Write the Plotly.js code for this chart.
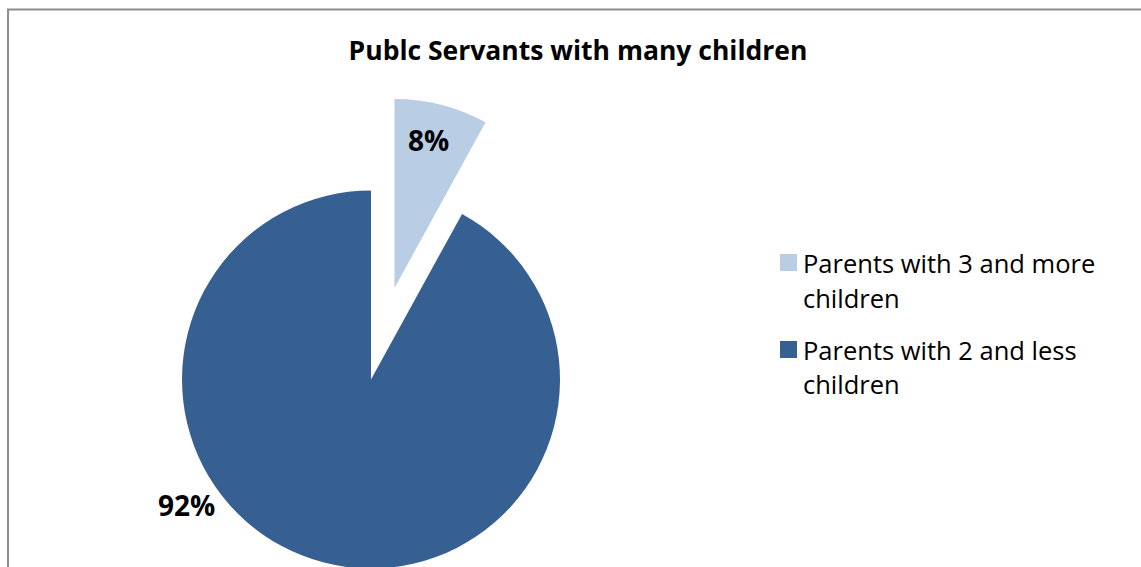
<!DOCTYPE html>
<html>
<head>
<meta charset="utf-8">
<script src="https://cdn.plot.ly/plotly-3.0.1.min.js"></script>
<style>
  html, body { margin: 0; padding: 0; background: #fff; overflow: hidden; }
  #wrap { width: 1141px; height: 567px; overflow: hidden; position: relative; }
  #chart { width: 1141px; height: 700px; }
</style>
</head>
<body>
<div id="wrap"><div id="chart"></div></div>
<script>
// ---- data ----
const chartTitle = "Publc Servants with many children";
const categories = ["Parents with 3 and more children", "Parents with 2 and less children"];
const values = [8, 92];
const colors = ["#B9CDE5", "#376092"];
const pulls = [0.5, 0];

// ---- geometry helpers (pixel -> paper) ----
const W = 1141, T = 96, H = 567, B = 37;
const px = x => x / W;
const py = y => (T + H - y) / H;

function wrap(text, maxLen) {
  const words = text.split(" ");
  const lines = [];
  let cur = "";
  words.forEach(w => {
    const cand = cur ? cur + " " + w : w;
    if (cand.length > maxLen && cur) { lines.push(cur); cur = w; }
    else cur = cand;
  });
  if (cur) lines.push(cur);
  return lines;
}

const FONT = "Open Sans, Liberation Sans, sans-serif";
const total = values.reduce((a, b) => a + b, 0);
const pct = values.map(v => Math.round(v / total * 100) + "%");

const trace = {
  type: "pie",
  labels: categories,
  values: values,
  sort: false,
  direction: "clockwise",
  rotation: 0,
  pull: pulls,
  marker: { colors: colors, line: { width: 0 } },
  textinfo: "none",
  hoverinfo: "label+percent",
  showlegend: false,
  domain: { x: [0.06515, 0.58515], y: [0, 1] }
};

// data label positions (pixel centers)
const labelPos = [[428, 140], [186, 505]];

const annotations = [];
const shapes = [];

pct.forEach((t, i) => {
  annotations.push({
    xref: "paper", yref: "paper",
    x: px(labelPos[i][0]), y: py(labelPos[i][1]),
    xanchor: "center", yanchor: "middle",
    text: "<b>" + t + "</b>", showarrow: false,
    font: { family: FONT, size: 28, color: "#000" }
  });
});

// legend built from categories/colors
const legX = 780, legY0 = 254, itemGap = 87, lineGap = 35, sq = 17;
categories.forEach((c, i) => {
  const top = legY0 + itemGap * i;
  shapes.push({
    type: "rect", xref: "paper", yref: "paper",
    x0: px(legX), x1: px(legX + sq), y0: py(top), y1: py(top + sq),
    fillcolor: colors[i], line: { width: 0 }
  });
  wrap(c, 23).forEach((ln, j) => {
    annotations.push({
      xref: "paper", yref: "paper",
      x: px(801), y: py(top + sq / 2 + lineGap * j),
      xanchor: "left", yanchor: "middle",
      text: ln, showarrow: false,
      font: { family: FONT, size: 25.5, color: "#000" }
    });
  });
});

// chart area border
shapes.push({
  type: "rect", xref: "paper", yref: "paper",
  x0: px(8), x1: px(1400), y0: py(9.5), y1: py(900),
  line: { color: "#8c8c8c", width: 2 }, fillcolor: "rgba(0,0,0,0)"
});

const layout = {
  width: W, height: T + H + B,
  margin: { l: 0, r: 0, t: T, b: B, pad: 0 },
  paper_bgcolor: "#fff", plot_bgcolor: "#fff",
  showlegend: false,
  title: {
    text: "<b>" + chartTitle + "</b>",
    x: 578 / W, xanchor: "center",
    y: 1 - 51 / (T + H + B), yanchor: "middle", yref: "container",
    font: { family: FONT, size: 26.5, color: "#000" }
  },
  annotations: annotations,
  shapes: shapes
};

Plotly.newPlot("chart", [trace], layout, { displayModeBar: false, staticPlot: true });
</script>
</body>
</html>
